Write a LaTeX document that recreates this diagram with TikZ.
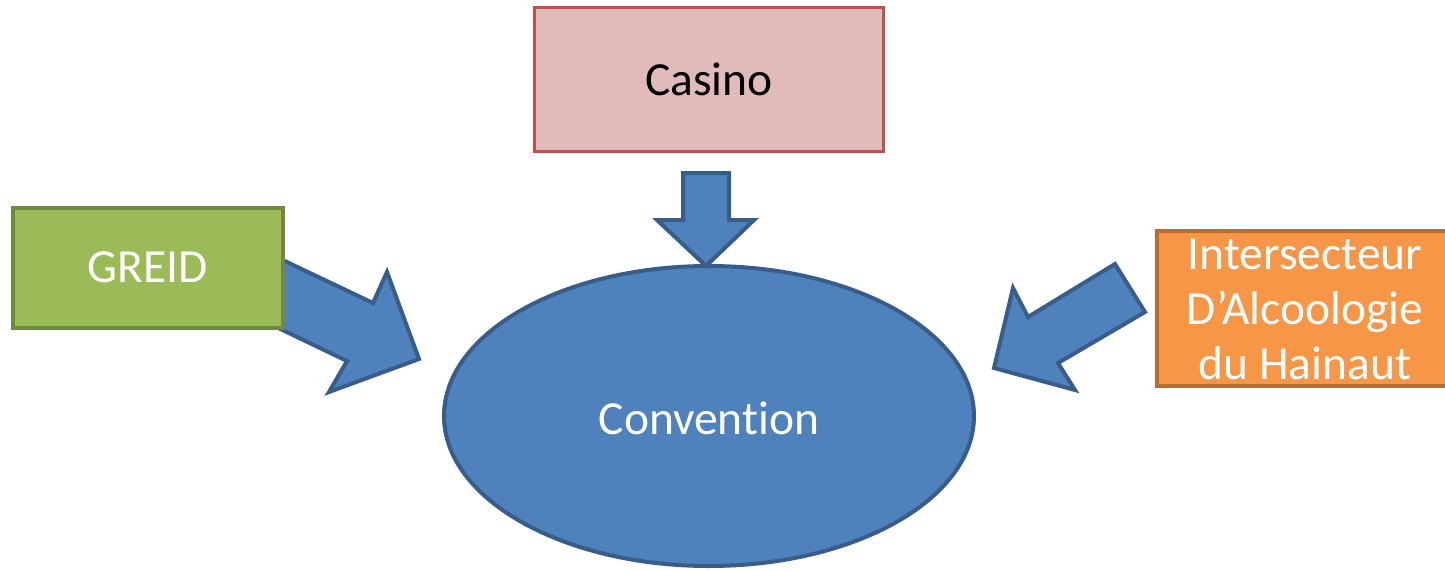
\documentclass[tikz,border=0pt]{standalone}
\usepackage{fontspec}
\setmainfont[Ligatures=NoCommon]{Carlito}
\definecolor{casinofill}{HTML}{E0BBBA}
\definecolor{casinoline}{HTML}{C0504D}
\definecolor{greidfill}{HTML}{9BBB59}
\definecolor{greidline}{HTML}{71893F}
\definecolor{orfill}{HTML}{F79646}
\definecolor{orline}{HTML}{B66D31}
\definecolor{bluefill}{HTML}{4F81BD}
\definecolor{blueline}{HTML}{385D8A}
\tikzset{
  blockarrow/.style={fill=bluefill, draw=blueline, line width=4pt, line join=miter},
  boxtext/.style={font=\fontsize{47.5}{55}\selectfont, align=center},
}
\begin{document}
\begin{tikzpicture}[x=1pt,y=-1pt]
\useasboundingbox (0,0) rectangle (1445,570);
% central ellipse
\fill[bluefill, draw=blueline, line width=4pt] (709,416) ellipse [x radius=265, y radius=150];
\node[boxtext, text=white] (conv) at (709,418) {Convention};
% down arrow from Casino
\draw[blockarrow] (683,173) -- (729,173) -- (729,220) -- (754,220) -- (706,266) -- (657,220) -- (683,220) -- cycle;
% left arrow from GREID
\draw[blockarrow] (270,254) -- (373,303) -- (387,272) -- (419,359) -- (329,392) -- (347,361) -- (270,324) -- cycle;
% right arrow from Intersecteur
\draw[blockarrow] (1115,264) -- (1145,312) -- (1058,363) -- (1075,390) -- (994,368) -- (1013,288) -- (1028,317) -- cycle;
% boxes
\node[draw=casinoline, fill=casinofill, line width=2.5pt, minimum width=349pt, minimum height=144pt, inner sep=0pt, boxtext, text=black] (casino) at (709,79.5) {Casino};
\node[draw=greidline, fill=greidfill, line width=4pt, minimum width=270pt, minimum height=120pt, inner sep=0pt, boxtext, text=white] (greid) at (147.5,267.5) {GREID};
\fill[orfill, draw=orline, line width=4pt] (1157,231) rectangle (1470,386);
\node[boxtext, text=white, inner sep=0pt] (inter) at (1305,309) {Intersecteur\\D’Alcoologie\\du Hainaut};
\end{tikzpicture}
\end{document}
